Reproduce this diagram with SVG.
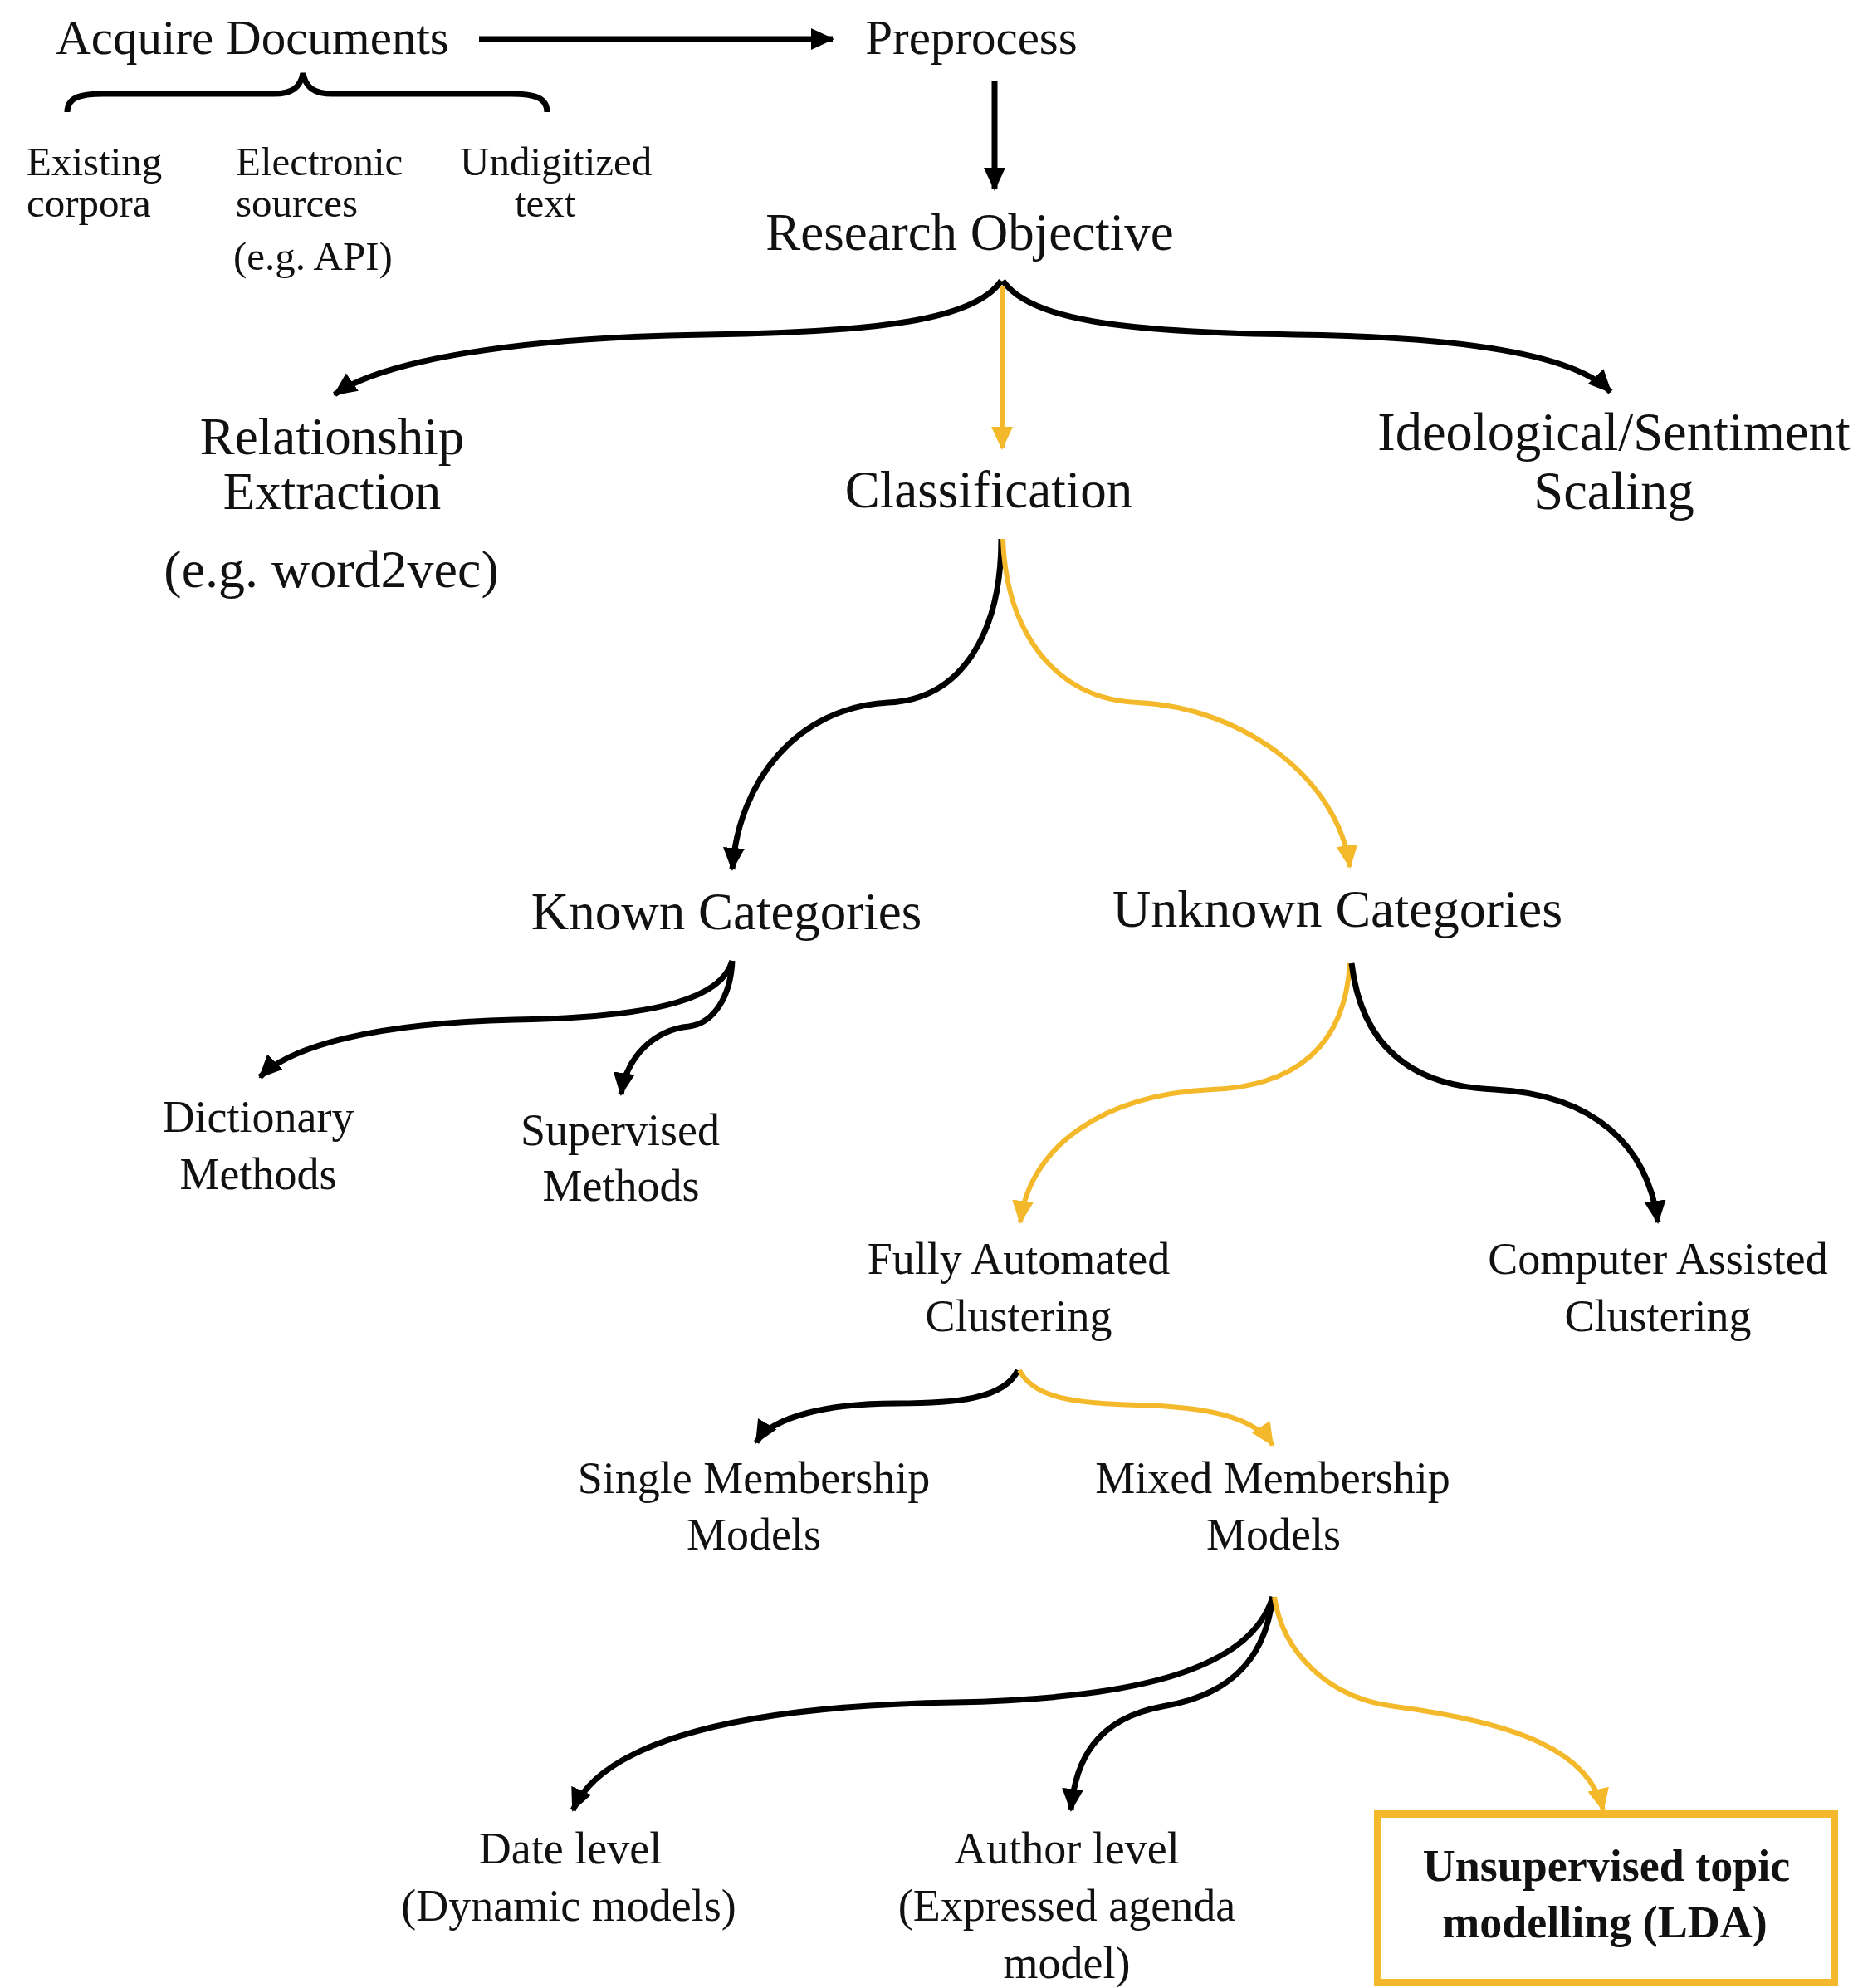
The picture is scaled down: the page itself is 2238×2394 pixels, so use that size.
<svg xmlns="http://www.w3.org/2000/svg" width="2238" height="2394" viewBox="0 0 2238 2394">
<style>
text{font-family:"Liberation Serif","Times New Roman",serif;fill:#111;}
.big{font-size:63px;}
.mid{font-size:59px;}
.sm{font-size:54px;}
.xs{font-size:49px;}
.b{font-weight:bold;}
.k{fill:none;stroke:#000;stroke-width:7;marker-end:url(#ak);}
.y{fill:none;stroke:#F4B92B;stroke-width:6;marker-end:url(#ay);}
</style>
<defs>
<marker id="ak" markerUnits="userSpaceOnUse" markerWidth="28" markerHeight="28" refX="26" refY="14" orient="auto"><path d="M0,1 L28,14 L0,27 z" fill="#000"/></marker>
<marker id="ay" markerUnits="userSpaceOnUse" markerWidth="28" markerHeight="28" refX="26" refY="14" orient="auto"><path d="M0,1 L28,14 L0,27 z" fill="#F4B92B"/></marker>
</defs>
<rect width="2238" height="2394" fill="#fff"/>

<g id="connectors">
<path class="k" d="M577,47 L1003,47"/>
<path d="M81,135 C81,118 95,113 125,113 L330,113 C352,113 362,105 365,88 C368,105 378,113 400,113 L615,113 C645,113 659,118 659,135" fill="none" stroke="#000" stroke-width="7"/>
<path class="k" d="M1198,97 L1198,228"/>
<path class="k" d="M1206,338 C1175,385 1060,400 850,403 C620,406 460,435 403,475"/>
<path class="k" d="M1208,338 C1240,385 1350,400 1560,403 C1780,406 1900,430 1940,472"/>
<path class="y" d="M1207,345 L1207,540"/>
<path class="k" d="M1206,649 C1206,760 1160,842 1070,846 C960,852 890,940 882,1047"/>
<path class="y" d="M1208,649 C1212,760 1270,842 1370,846 C1500,852 1612,940 1626,1044"/>
<path class="k" d="M882,1157 C870,1200 800,1225 620,1228 C450,1232 350,1260 313,1297"/>
<path class="k" d="M882,1157 C880,1200 860,1232 830,1236 C790,1240 755,1270 748,1318"/>
<path class="y" d="M1626,1160 C1620,1260 1560,1308 1460,1312 C1330,1318 1240,1380 1229,1472"/>
<path class="k" d="M1628,1160 C1640,1260 1700,1308 1800,1312 C1920,1318 1985,1380 1997,1472"/>
<path class="k" d="M1226,1650 C1210,1685 1150,1690 1080,1690 C1000,1690 930,1705 911,1737"/>
<path class="y" d="M1228,1650 C1245,1685 1300,1690 1370,1692 C1450,1694 1510,1705 1533,1740"/>
<path class="k" d="M1533,1923 C1510,2000 1400,2045 1150,2050 C850,2055 720,2110 690,2180"/>
<path class="k" d="M1533,1923 C1525,1990 1490,2040 1400,2055 C1320,2070 1295,2120 1290,2180"/>
<path class="y" d="M1535,1923 C1545,1990 1600,2045 1680,2055 C1830,2075 1915,2110 1931,2180"/>
</g>

<g id="acquire"><text class="mid" x="304" y="65" text-anchor="middle">Acquire Documents</text></g>
<g id="existing"><text class="xs" x="32" y="211">Existing</text><text class="xs" x="32" y="261">corpora</text></g>
<g id="electronic"><text class="xs" x="284" y="211">Electronic</text><text class="xs" x="284" y="261">sources</text><text class="xs" x="281" y="325">(e.g. API)</text></g>
<g id="undigitized"><text class="xs" x="554" y="211">Undigitized</text><text class="xs" x="620" y="261">text</text></g>
<g id="preprocess"><text class="mid" x="1170" y="65" text-anchor="middle">Preprocess</text></g>
<g id="research"><text class="big" x="1168" y="301" text-anchor="middle">Research Objective</text></g>
<g id="relationship"><text class="big" x="400" y="547" text-anchor="middle">Relationship</text><text class="big" x="400" y="613" text-anchor="middle">Extraction</text><text x="399" y="707" text-anchor="middle" font-size="64">(e.g. word2vec)</text></g>
<g id="classification"><text class="big" x="1191" y="611" text-anchor="middle">Classification</text></g>
<g id="ideological"><text x="1944" y="542" text-anchor="middle" font-size="64.5">Ideological/Sentiment</text><text x="1944" y="613" text-anchor="middle" font-size="64.5">Scaling</text></g>
<g id="known"><text class="big" x="875" y="1119" text-anchor="middle">Known Categories</text></g>
<g id="unknown"><text x="1611" y="1116" text-anchor="middle" font-size="64">Unknown Categories</text></g>
<g id="dictionary"><text class="sm" x="311" y="1363" text-anchor="middle">Dictionary</text><text class="sm" x="311" y="1432" text-anchor="middle">Methods</text></g>
<g id="supervised"><text class="sm" x="747" y="1379" text-anchor="middle">Supervised</text><text class="sm" x="748" y="1446" text-anchor="middle">Methods</text></g>
<g id="fully"><text class="sm" x="1227" y="1534" text-anchor="middle">Fully Automated</text><text class="sm" x="1227" y="1603" text-anchor="middle">Clustering</text></g>
<g id="computer"><text class="sm" x="1997" y="1534" text-anchor="middle">Computer Assisted</text><text class="sm" x="1997" y="1603" text-anchor="middle">Clustering</text></g>
<g id="single"><text class="sm" x="908" y="1798" text-anchor="middle">Single Membership</text><text class="sm" x="908" y="1866" text-anchor="middle">Models</text></g>
<g id="mixed"><text class="sm" x="1533" y="1798" text-anchor="middle">Mixed Membership</text><text class="sm" x="1534" y="1866" text-anchor="middle">Models</text></g>
<g id="date"><text class="sm" x="687" y="2244" text-anchor="middle">Date level</text><text class="sm" x="685" y="2313" text-anchor="middle">(Dynamic models)</text></g>
<g id="author"><text class="sm" x="1285" y="2244" text-anchor="middle">Author level</text><text class="sm" x="1285" y="2313" text-anchor="middle">(Expressed agenda</text><text class="sm" x="1285" y="2382" text-anchor="middle">model)</text></g>
<g id="lda"><rect x="1659.5" y="2184.5" width="550" height="203" fill="none" stroke="#F4B92B" stroke-width="9"/><text class="sm b" x="1935" y="2265" text-anchor="middle">Unsupervised topic</text><text class="sm b" x="1933" y="2333" text-anchor="middle">modelling (LDA)</text></g>
</svg>
